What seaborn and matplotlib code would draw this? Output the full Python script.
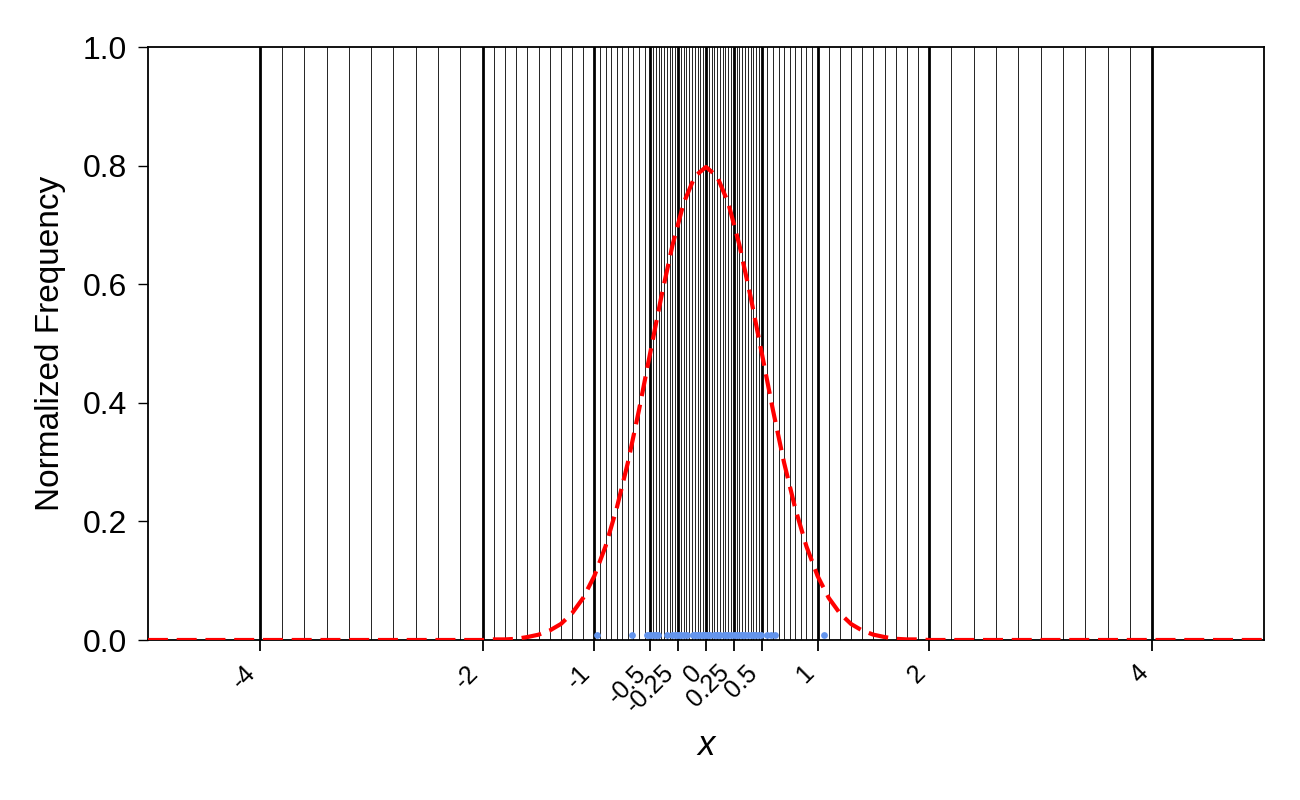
import numpy as np
import pandas as pd
import matplotlib.pyplot as plt
import matplotlib.transforms as mtransforms
import seaborn as sns

# tick positions on the x axis (also where the heavy vertical lines go)
tick_values = [-4, -2, -1, -0.5, -0.25, 0, 0.25, 0.5, 1, 2, 4]
tick_labels = ["-4", "-2", "-1", "-0.5", "-0.25", "0", "0.25", "0.5", "1", "2", "4"]

# density curve
curve_x = [-5.0,
           -2.0, -1.9, -1.8, -1.7, -1.6, -1.5, -1.4, -1.3, -1.2, -1.1,
           -1.0, -0.9, -0.8, -0.7, -0.6, -0.5, -0.4, -0.3, -0.2, -0.1,
           0.0,
           0.1, 0.2, 0.3, 0.4, 0.5, 0.6, 0.7, 0.8, 0.9, 1.0,
           1.1, 1.2, 1.3, 1.4, 1.5, 1.6, 1.7, 1.8, 1.9, 2.0,
           5.0]
curve_y = [0.0,
           0.000, 0.001, 0.001, 0.002, 0.005, 0.009, 0.016, 0.027, 0.045, 0.071,
           0.108, 0.158, 0.222, 0.299, 0.388, 0.484, 0.579, 0.666, 0.737, 0.782,
           0.798,
           0.782, 0.737, 0.666, 0.579, 0.484, 0.388, 0.299, 0.222, 0.158, 0.108,
           0.071, 0.045, 0.027, 0.016, 0.009, 0.005, 0.002, 0.001, 0.001, 0.000,
           0.0]

# sample points shown as small dots along the bottom
samples = [-0.98, -0.66, -0.53, -0.51, -0.49, -0.47, -0.45, -0.43, -0.35,
           -0.30, -0.28, -0.26, -0.24, -0.22, -0.20, -0.17, -0.12, -0.10,
           -0.08, -0.06, -0.04, -0.02, 0.0, 0.02, 0.04, 0.07, 0.09, 0.11,
           0.13, 0.16, 0.18, 0.20, 0.22, 0.25, 0.27, 0.29, 0.31, 0.33, 0.35,
           0.38, 0.40, 0.42, 0.44, 0.47, 0.49, 0.55, 0.58, 0.62, 1.06]
sample_level = 0.008

sns.set_style("ticks")
plt.rcParams['font.family'] = ['Liberation Sans', 'DejaVu Sans']
for key in ['text.color', 'axes.labelcolor', 'xtick.color', 'ytick.color']:
    plt.rcParams[key] = 'black'

fig, ax = plt.subplots(figsize=(13, 8), dpi=100)
fig.subplots_adjust(left=0.1138, right=0.9723, top=0.941, bottom=0.2)

# grid: heavy lines at ticks, 9 light lines inside each tick interval
for a, b in zip(tick_values[:-1], tick_values[1:]):
    for xm in np.linspace(a, b, 11)[1:-1]:
        ax.axvline(xm, color='black', lw=0.6, zorder=1)
for xt in tick_values:
    ax.axvline(xt, color='black', lw=2.0, zorder=1)

curve = pd.DataFrame({'x': curve_x, 'y': curve_y})
sns.lineplot(data=curve, x='x', y='y', ax=ax, color='red', linewidth=3.0,
             zorder=5)
red = ax.lines[-1]
red.set_dashes((4.8, 2.1))

pts = pd.DataFrame({'x': samples, 'y': [sample_level] * len(samples)})
sns.scatterplot(data=pts, x='x', y='y', ax=ax, color='cornflowerblue',
                s=24, linewidth=0, zorder=3)

ax.set_xlim(-5, 5)
ax.set_ylim(0, 1.0)
ax.set_yticks([0.0, 0.2, 0.4, 0.6, 0.8, 1.0])
ax.set_yticklabels(["0.0", "0.2", "0.4", "0.6", "0.8", "1.0"], fontsize=23)
ax.set_xticks(tick_values)
ax.set_xticklabels(tick_labels, fontsize=18, rotation=45, ha='right',
                   va='center', rotation_mode='anchor')

ax.tick_params(axis='x', length=8, width=1.3, pad=13)
ax.tick_params(axis='y', length=7, width=1.0, pad=8)
for sp in ax.spines.values():
    sp.set_linewidth(1.3)
    sp.set_color('black')

# nudge the rotated tick labels a little to the left
shift = mtransforms.ScaledTranslation(-8 / 100, 0, fig.dpi_scale_trans)
for lab in ax.get_xticklabels():
    lab.set_transform(lab.get_transform() + shift)

ax.set_xlabel("x", fontsize=25, fontstyle='italic', labelpad=8)
ax.set_ylabel("Normalized Frequency", fontsize=24, labelpad=12)

fig.savefig('out.png', dpi=100)
